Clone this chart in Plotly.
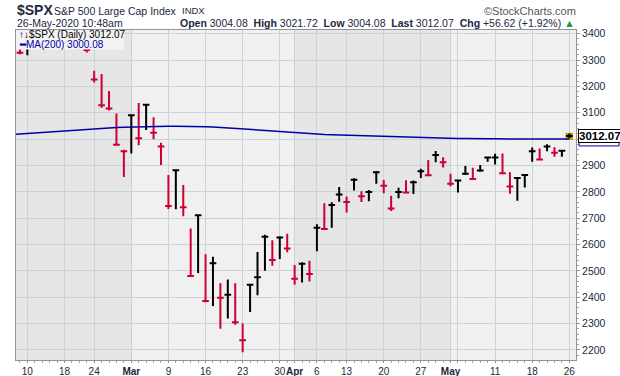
import plotly.graph_objects as go

# ---------------- data ----------------
dates = [
    "2020-02-06", "2020-02-07", "2020-02-10", "2020-02-11", "2020-02-12", "2020-02-13", "2020-02-14",
    "2020-02-18", "2020-02-19", "2020-02-20", "2020-02-21", "2020-02-24", "2020-02-25", "2020-02-26",
    "2020-02-27", "2020-02-28",
    "2020-03-02", "2020-03-03", "2020-03-04", "2020-03-05", "2020-03-06", "2020-03-09", "2020-03-10",
    "2020-03-11", "2020-03-12", "2020-03-13", "2020-03-16", "2020-03-17", "2020-03-18", "2020-03-19",
    "2020-03-20", "2020-03-23", "2020-03-24", "2020-03-25", "2020-03-26", "2020-03-27", "2020-03-30",
    "2020-03-31",
    "2020-04-01", "2020-04-02", "2020-04-03", "2020-04-06", "2020-04-07", "2020-04-08", "2020-04-09",
    "2020-04-13", "2020-04-14", "2020-04-15", "2020-04-16", "2020-04-17", "2020-04-20", "2020-04-21",
    "2020-04-22", "2020-04-23", "2020-04-24", "2020-04-27", "2020-04-28", "2020-04-29", "2020-04-30",
    "2020-05-01", "2020-05-04", "2020-05-05", "2020-05-06", "2020-05-07", "2020-05-08", "2020-05-11",
    "2020-05-12", "2020-05-13", "2020-05-14", "2020-05-15", "2020-05-18", "2020-05-19", "2020-05-20",
    "2020-05-21", "2020-05-22", "2020-05-26",
]
highs = [
    3347.96, 3341.42, 3352.26, 3375.63, 3381.47, 3385.09, 3380.69,
    3375.01, 3393.52, 3389.15, 3360.76, 3259.81, 3246.99, 3182.51,
    3097.07, 2959.72,
    3090.96, 3136.72, 3130.94, 3083.04, 2985.93, 2863.89, 2882.59,
    2825.60, 2660.95, 2711.33, 2562.98, 2553.93, 2453.57, 2466.97,
    2453.01, 2300.73, 2449.71, 2571.42, 2637.01, 2615.91, 2631.80,
    2641.39,
    2522.75, 2533.22, 2538.18, 2676.85, 2756.89, 2760.75, 2818.57,
    2782.46, 2851.85, 2801.88, 2806.51, 2879.22, 2844.90, 2785.54,
    2815.10, 2844.24, 2842.71, 2887.72, 2921.15, 2954.86, 2930.91,
    2869.09, 2844.24, 2898.23, 2891.11, 2901.92, 2932.16, 2944.25,
    2945.82, 2874.68, 2852.80, 2865.01, 2968.09, 2964.21, 2980.29,
    2969.58, 2956.76, 3021.72,
]
lows = [
    3334.39, 3322.12, 3317.77, 3352.72, 3369.72, 3360.52, 3366.15,
    3355.61, 3378.83, 3341.02, 3328.45, 3214.65, 3118.77, 3108.99,
    2977.39, 2855.84,
    2945.19, 2976.63, 3034.38, 2999.83, 2901.54, 2734.43, 2734.00,
    2707.22, 2478.86, 2492.37, 2380.94, 2367.04, 2280.52, 2319.78,
    2295.56, 2191.86, 2344.44, 2407.53, 2500.72, 2520.02, 2545.28,
    2571.15,
    2447.49, 2455.79, 2459.96, 2574.57, 2657.67, 2663.30, 2762.36,
    2721.17, 2805.10, 2761.54, 2764.32, 2830.88, 2794.26, 2727.10,
    2775.95, 2794.26, 2791.76, 2852.89, 2860.71, 2912.16, 2892.47,
    2821.61, 2797.85, 2863.55, 2847.65, 2876.48, 2913.86, 2903.44,
    2869.59, 2793.15, 2766.64, 2816.78, 2913.86, 2922.35, 2953.63,
    2933.59, 2933.59, 3004.08,
]
closes = [
    3345.78, 3327.71, 3352.09, 3357.75, 3379.45, 3373.94, 3380.16,
    3370.29, 3386.15, 3373.23, 3337.75, 3225.89, 3128.21, 3116.39,
    2978.76, 2954.22,
    3090.23, 3003.37, 3130.12, 3023.94, 2972.37, 2746.56, 2882.23,
    2741.38, 2480.64, 2711.02, 2386.13, 2529.19, 2398.10, 2409.39,
    2304.92, 2237.40, 2447.33, 2475.56, 2630.07, 2541.47, 2626.65,
    2584.59,
    2470.50, 2526.90, 2488.65, 2663.68, 2659.41, 2749.98, 2789.82,
    2761.63, 2846.06, 2783.36, 2799.55, 2874.56, 2823.16, 2736.56,
    2799.31, 2797.80, 2836.74, 2878.48, 2863.39, 2939.51, 2912.43,
    2830.71, 2842.74, 2868.44, 2848.42, 2881.19, 2929.80, 2930.32,
    2870.12, 2820.00, 2852.50, 2863.70, 2953.91, 2922.94, 2971.61,
    2948.51, 2955.45, 3012.07,
]
ma200 = [
    3018, 3020, 3022, 3024, 3026, 3028, 3030,
    3032, 3034, 3036, 3038, 3040, 3041, 3043,
    3044, 3045,
    3046, 3047, 3048, 3048, 3049, 3049, 3049,
    3049, 3048, 3048, 3047, 3046, 3044, 3042,
    3040, 3038, 3036, 3034, 3032, 3030, 3028,
    3026,
    3024, 3022, 3020, 3019, 3018, 3017, 3016,
    3015, 3014, 3013, 3012, 3011, 3010, 3009,
    3008, 3007, 3006, 3005, 3004, 3003, 3003,
    3002, 3002, 3002, 3001, 3001, 3001, 3001,
    3001, 3000.5, 3000.5, 3000.3, 3000.2, 3000.2, 3000.1,
    3000.1, 3000.1, 3000.08,
]
last_open = 3004.08

tick_dates = ["2020-02-10", "2020-02-18", "2020-02-24", "2020-03-02", "2020-03-09", "2020-03-16",
              "2020-03-23", "2020-03-30", "2020-04-01", "2020-04-06", "2020-04-13", "2020-04-20",
              "2020-04-27", "2020-05-01", "2020-05-04", "2020-05-11", "2020-05-18", "2020-05-26"]
tick_labels = ["10", "18", "24", "<b>Mar</b>", "9", "16", "23", "30", "<b>Apr</b>", "6", "13", "20",
               "27", "<b>May</b>", "", "11", "18", "26"]
month_starts = ["2020-03-02", "2020-04-01", "2020-05-01"]
y_ticks = [2200, 2300, 2400, 2500, 2600, 2700, 2800, 2900, 3000, 3100, 3200, 3300, 3400]
y_tick_labels = ["2200", "2300", "2400", "2500", "2600", "2700", "2800", "2900", "", "3100",
                 "3200", "3300", "3400"]  # 3000 sits under the price tag

# ---------------- styles ----------------
FONT = "Liberation Sans, Arial, sans-serif"
TXT = "#1b2840"
RED = "#cc0033"
BLACK = "#000000"
MA_COLOR = "#0000a8"
GRID = "#cbd2da"
AXIS = "#8e949c"
BG_LIGHT = "#f0f0f0"
BG_DARK = "#e6e6e6"

W, H = 620, 376
ML, MR, MT, MB = 16, 44, 30, 16
PW, PH = W - ML - MR, H - MT - MB


def px_x(p):
    return (p - ML) / PW


def px_y(p):
    return (H - MB - p) / PH


idx = list(range(len(dates)))
pos = {d: i for i, d in enumerate(dates)}
up = [i for i in idx if i == 0 or closes[i] >= closes[i - 1]]
dn = [i for i in idx if i > 0 and closes[i] < closes[i - 1]]

fig = go.Figure()


def bar_trace(ids, color):
    return go.Ohlc(
        x=[idx[i] for i in ids],
        open=[closes[i] for i in ids],
        high=[highs[i] for i in ids],
        low=[lows[i] for i in ids],
        close=[closes[i] for i in ids],
        increasing=dict(line=dict(color=color, width=2)),
        decreasing=dict(line=dict(color=color, width=2)),
        tickwidth=0.45,
        showlegend=False,
        hoverinfo="skip",
    )


fig.add_trace(go.Scatter(x=idx, y=ma200, mode="lines",
                         line=dict(color=MA_COLOR, width=1.5),
                         showlegend=False, hoverinfo="skip"))
fig.add_trace(bar_trace(up, BLACK))
fig.add_trace(bar_trace(dn, RED))

x_lo, x_hi = 0.47, len(dates) - 1 + 0.9

shapes = []
# month shading: Feb and Apr darker
bounds = [x_lo] + [pos[m] for m in month_starts] + [x_hi]
for k in range(len(bounds) - 1):
    if k % 2 == 0:
        shapes.append(dict(type="rect", xref="x", yref="paper", x0=bounds[k], x1=bounds[k + 1],
                           y0=0, y1=1, fillcolor=BG_DARK, line=dict(width=0), layer="below"))
# highlight of the last bar
li = idx[-1]
shapes.append(dict(type="rect", xref="x", yref="y", x0=li - 0.5, x1=li + 0.5,
                   y0=lows[-1] - 7, y1=highs[-1] + 2, fillcolor="#b0a000",
                   line=dict(width=0), layer="between"))
# legend box
shapes.append(dict(type="rect", xref="paper", yref="paper", x0=0, x1=px_x(124),
                   y0=px_y(49.5), y1=1, fillcolor="#f3f3f3", line=dict(width=0), layer="above"))
# MA(200) value tag, mostly hidden behind the last-price tag
shapes.append(dict(type="rect", xref="paper", yref="y", x0=px_x(579), x1=px_x(619),
                   y0=ma200[-1] - 26, y1=ma200[-1] + 24, fillcolor="#ffffff",
                   line=dict(color=MA_COLOR, width=1), layer="above"))

chg = closes[-1] - closes[-2]
pct = chg / closes[-2] * 100
nb = "\u00a0"

annotations = [
    dict(xref="paper", yref="paper", x=px_x(15), y=px_y(10), xanchor="left", yanchor="middle",
         text="<b>$SPX</b>", showarrow=False, font=dict(size=14, color=TXT, family=FONT)),
    dict(xref="paper", yref="paper", x=px_x(52), y=px_y(10.5), xanchor="left", yanchor="middle",
         text="S&P 500 Large Cap Index", showarrow=False, font=dict(size=10.5, color=TXT, family=FONT)),
    dict(xref="paper", yref="paper", x=px_x(180), y=px_y(11), xanchor="left", yanchor="middle",
         text="INDX", showarrow=False, font=dict(size=9.5, color=TXT, family=FONT)),
    dict(xref="paper", yref="paper", x=px_x(578), y=px_y(11), xanchor="right", yanchor="middle",
         text="©StockCharts.com", showarrow=False, font=dict(size=11, color="#555555", family=FONT)),
    dict(xref="paper", yref="paper", x=px_x(15), y=px_y(23), xanchor="left", yanchor="middle",
         text="26-May-2020 10:48am", showarrow=False, font=dict(size=10.5, color=TXT, family=FONT)),
    dict(xref="paper", yref="paper", x=px_x(577), y=px_y(23), xanchor="right", yanchor="middle",
         text=(f"<b>Open</b> {last_open:.2f}{nb}{nb}<b>High</b> {highs[-1]:.2f}{nb}{nb}"
               f"<b>Low</b> {lows[-1]:.2f}{nb}{nb}<b>Last</b> {closes[-1]:.2f}{nb}{nb}"
               f"<b>Chg</b> {chg:+.2f} ({pct:+.2f}%) <span style='color:#1e9a3c'>▲</span>"),
         showarrow=False, font=dict(size=10.5, color=TXT, family=FONT)),
    # legend text
    dict(xref="paper", yref="paper", x=px_x(17), y=px_y(35), xanchor="left", yanchor="middle",
         text=f"↑↓$SPX (Daily) {closes[-1]:.2f}", showarrow=False,
         font=dict(size=10, color="#000000", family=FONT)),
    dict(xref="paper", yref="paper", x=px_x(17), y=px_y(45), xanchor="left", yanchor="middle",
         text=f"<b>━</b>MA(200) {ma200[-1]:.2f}", showarrow=False,
         font=dict(size=10, color=MA_COLOR, family=FONT)),
    # last-price tag on right axis
    dict(xref="paper", yref="y", x=px_x(578), y=closes[-1], xanchor="left", yanchor="middle",
         text=f"<b>{closes[-1]:.2f}</b>", showarrow=False, bgcolor="#ffffff", bordercolor="#000000",
         borderwidth=1, borderpad=0, font=dict(size=11.5, color="#000000", family=FONT)),
]

fig.update_layout(
    width=W, height=H,
    margin=dict(l=ML, r=MR, t=MT, b=MB, autoexpand=False),
    paper_bgcolor="#ffffff",
    plot_bgcolor=BG_LIGHT,
    font=dict(family=FONT, color=TXT),
    shapes=shapes,
    annotations=annotations,
    showlegend=False,
    xaxis=dict(
        range=[x_lo, x_hi],
        automargin=False,
        rangeslider=dict(visible=False),
        tickmode="array",
        tickvals=[pos[d] for d in tick_dates],
        ticktext=tick_labels,
        tickangle=0,
        showgrid=True, gridcolor=GRID, gridwidth=1,
        ticks="outside", ticklen=2, tickcolor=AXIS,
        minor=dict(dtick=1, tick0=0, ticks="outside", ticklen=2, tickcolor="#a0a6ae", showgrid=False),
        showline=True, linecolor=AXIS, linewidth=1, mirror=True,
        zeroline=False,
        tickfont=dict(size=10, color=TXT, family=FONT),
    ),
    yaxis=dict(
        side="right",
        automargin=False,
        range=[2162, 3414],
        tickmode="array",
        tickvals=y_ticks,
        ticktext=y_tick_labels,
        showgrid=True, gridcolor=GRID, gridwidth=1,
        ticks="outside", ticklen=3, tickcolor=AXIS,
        minor=dict(dtick=20, tick0=2200, ticks="outside", ticklen=2, tickcolor="#a0a6ae", showgrid=False),
        showline=True, linecolor=AXIS, linewidth=1, mirror=True,
        zeroline=False,
        tickfont=dict(size=10.5, color=TXT, family=FONT),
    ),
)

fig.write_html("out.html", config={"displayModeBar": False},
               post_script="document.body.style.margin='0';document.body.style.overflow='hidden';")
